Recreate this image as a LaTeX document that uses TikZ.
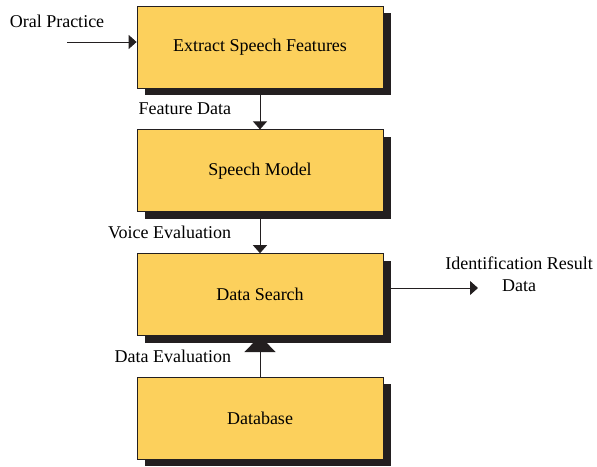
\documentclass[tikz,border=0pt]{standalone}
\usepackage{fontspec}
\setmainfont{Liberation Serif}
\usetikzlibrary{positioning,arrows.meta,shadows}
\definecolor{boxyellow}{RGB}{252,208,92}
\definecolor{shadowgray}{RGB}{35,31,32}

\begin{document}
\begin{tikzpicture}[x=1pt,y=-1pt,
    font=\fontsize{18}{22}\selectfont,
    stage/.style={draw=shadowgray, line width=0.8pt, fill=boxyellow,
        minimum width=246pt, minimum height=82pt, inner sep=0pt,
        drop shadow={shadow xshift=8pt, shadow yshift=-7pt, fill=shadowgray, opacity=1}},
    flow/.style={-{Triangle[length=8pt,width=14pt]}, line width=1pt, shadowgray},
    node distance=41pt,
    ]
\useasboundingbox (0,0) rectangle (597,466);

% processing chain
\node[stage] (extract) at (260,47) {Extract Speech Features};
\node[stage, below=of extract] (model) {Speech Model};
\node[stage, below=of model] (search) {Data Search};
\node[stage, below=of search] (database) {Database};

\foreach \a/\b/\t in {extract/model/Feature Data, model/search/Voice Evaluation}
    \draw[flow] (\a) -- node[left=25pt, text=black] {\t} (\b);

\draw[-{Triangle[length=16pt,width=31pt]}, line width=1pt, shadowgray]
    (database) -- node[left=25pt, text=black] {Data Evaluation} (search);

% input and output
\node (oral) at (57,21) {Oral Practice};
\coordinate (in) at (67,42);
\draw[flow] (in) -- (in -| extract.west);

\coordinate (out) at (478,288);
\node[align=center] (result) at (519,274) {Identification Result\\Data};
\draw[flow] (search.east |- out) -- (out);

\end{tikzpicture}
\end{document}
